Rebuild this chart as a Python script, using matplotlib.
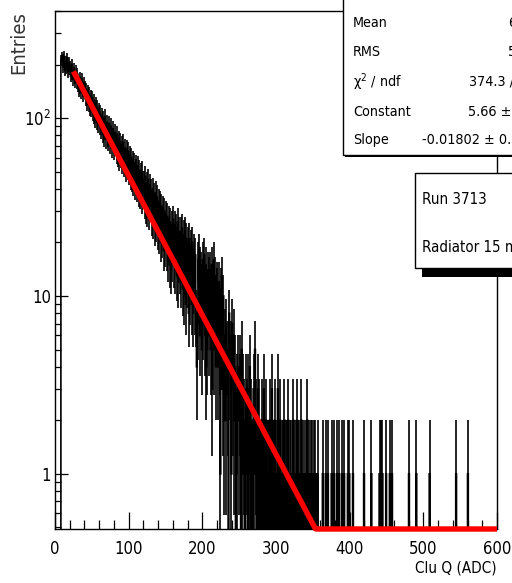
import numpy as np
import matplotlib
matplotlib.use("Agg")
import matplotlib.pyplot as plt
import matplotlib.font_manager as fm
from matplotlib.patches import Rectangle
from matplotlib.ticker import FixedLocator, FixedFormatter, LogLocator, NullFormatter, MultipleLocator

# ---- histogram: cluster charge, 1 ADC bins from 0 to 600 ----
bin_edges = np.arange(0, 601)

# bins 0..359
dense_counts = [
    0, 0, 0, 0, 0, 0, 0, 0, 212, 221,
    214, 193, 222, 185, 208, 190, 218, 181, 205, 188,
    196, 172, 201, 176, 165, 191, 168, 160, 184, 158,
    177, 152, 144, 169, 149, 140, 166, 143, 135, 158,
    150, 128, 145, 121, 141, 119, 137, 114, 133, 112,
    130, 107, 103, 125, 98, 120, 95, 115, 92, 111,
    108, 90, 86, 104, 81, 99, 78, 102, 84, 76,
    95, 78, 74, 93, 71, 90, 76, 68, 87, 72,
    66, 83, 70, 63, 81, 61, 76, 58, 74, 60,
    71, 56, 73, 54, 68, 55, 51, 67, 52, 65,
    49, 62, 46, 60, 45, 58, 43, 56, 41, 55,
    52, 40, 54, 38, 51, 37, 49, 35, 50, 39,
    44, 33, 47, 31, 43, 30, 45, 29, 42, 32,
    39, 27, 40, 26, 37, 24, 38, 25, 36, 23,
    34, 22, 33, 20, 32, 21, 31, 18, 30, 19,
    29, 18, 28, 16, 27, 15, 26, 14, 25, 16,
    27, 15, 25, 14, 24, 13, 26, 12, 23, 14,
    23, 12, 24, 11, 22, 10, 23, 9, 21, 12,
    20, 8, 21, 10, 19, 9, 20, 8, 18, 9,
    17, 8, 4, 7, 16, 18, 6, 15, 14, 5,
    16, 7, 17, 6, 15, 4, 5, 14, 13, 6,
    14, 5, 15, 3, 12, 16, 5, 13, 4, 12,
    11, 4, 12, 5, 1, 11, 13, 3, 10, 2,
    6, 2, 7, 5, 3, 0, 8, 4, 5, 1,
    7, 3, 6, 2, 4, 0, 1, 3, 4, 2,
    3, 4, 0, 5, 1, 3, 2, 0, 1, 3,
    2, 0, 3, 1, 4, 0, 2, 1, 0, 3,
    1, 5, 2, 0, 1, 3, 0, 2, 1, 0,
    2, 1, 0, 3, 0, 1, 2, 0, 1, 1,
    0, 2, 1, 0, 3, 1, 0, 1, 2, 0,
    1, 0, 3, 1, 0, 2, 0, 1, 0, 1,
    0, 2, 0, 1, 1, 0, 2, 0, 1, 0,
    1, 0, 1, 2, 0, 1, 0, 0, 2, 1,
    0, 1, 0, 0, 2, 1, 0, 1, 0, 0,
    1, 0, 2, 0, 1, 0, 0, 1, 0, 1,
    0, 1, 0, 1, 0, 0, 1, 0, 0, 0,
]

# bins above 360 holding a single entry
single_hits = [363, 367, 370, 375, 378, 382, 385, 389, 392, 397, 399, 404,
               419, 429, 440, 442, 444, 449, 454, 457, 480, 490, 508, 544, 560]

# exponential fit  f(x) = exp(Constant + Slope * x)
fit_constant = 5.66
fit_slope = -0.01802
fit_range = (25, 600)

# stats box rows
stat_names = ['Entries', 'Mean', 'RMS', r'χ$\mathregular{^2}$ / ndf', 'Constant', 'Slope']
stat_values = ['13462', '67.35', '56.41', '374.3 / 323', '5.66 ± 0.02', '-0.01802 ± 0.00027']

run_label = 'Run 3713'
radiator_label = 'Radiator 15 mm'

XMIN, XMAX = 0, 600
YMIN, YMAX = 0.49, 400

# pick a narrow sans face if one is installed
narrow_family, narrow_stretch = None, 'normal'
for f in fm.fontManager.ttflist:
    if f.name in ('Liberation Sans Narrow', 'Arial Narrow'):
        narrow_family, narrow_stretch = f.name, 'normal'
        break
if narrow_family is None:
    for f in fm.fontManager.ttflist:
        st = str(f.stretch)
        if ('Condensed' in f.name or st in ('condensed', 'semi-condensed', 'extra-condensed')) \
                and f.style == 'normal' and f.weight in (400, 'normal', 'regular'):
            narrow_family, narrow_stretch = f.name, st if st != 'normal' else 'normal'
            break

if narrow_family is not None:
    plt.rcParams['font.family'] = [narrow_family, 'Liberation Sans', 'DejaVu Sans']
    plt.rcParams['font.stretch'] = narrow_stretch
    TICK_FS, XLAB_FS, STAT_FS, BOX_FS = 12, 11, 10.3, 10.8
else:
    plt.rcParams['font.family'] = ['Liberation Sans', 'DejaVu Sans']
    TICK_FS, XLAB_FS, STAT_FS, BOX_FS = 10.5, 10, 9.4, 10

counts = np.zeros(len(bin_edges) - 1)
counts[:len(dense_counts)] = dense_counts
counts[single_hits] = 1

W, H = 512, 583
fig = plt.figure(figsize=(W / 100, H / 100), dpi=100)


def px_rect(l, t, r, b):
    return [l / W, 1 - b / H, (r - l) / W, (b - t) / H]


ax = fig.add_axes(px_rect(55, 11, 497, 529))
ax.set_yscale('log')
ax.set_xlim(XMIN, XMAX)
ax.set_ylim(YMIN, YMAX)

# histogram outline plus statistical error bars
ax.stairs(counts, bin_edges, color='black', lw=1.2, baseline=None)
centers = 0.5 * (bin_edges[:-1] + bin_edges[1:])
filled = counts > 0
err = np.sqrt(counts)
ax.vlines(centers[filled], (counts - err)[filled], (counts + err)[filled],
          color='black', lw=1.2)

# fitted exponential, held at the lower edge of the frame like ROOT does
xf = np.linspace(fit_range[0], fit_range[1], 500)
yf = np.exp(fit_constant + fit_slope * xf)
ax.plot(xf, np.maximum(yf, YMIN), color='red', lw=3.9, clip_on=False,
        solid_capstyle='butt', solid_joinstyle='miter', zorder=5)

# axes styling
for s in ax.spines.values():
    s.set_linewidth(1.0)
ax.xaxis.set_major_locator(MultipleLocator(100))
ax.xaxis.set_minor_locator(MultipleLocator(20))
ax.yaxis.set_major_locator(FixedLocator([1, 10, 100]))
ax.yaxis.set_major_formatter(FixedFormatter(['1', '10', r'$\mathregular{10^{2}}$']))
ax.yaxis.set_minor_locator(LogLocator(base=10, subs=np.arange(2, 10)))
ax.yaxis.set_minor_formatter(NullFormatter())
ax.tick_params(which='both', direction='in', top=False, right=False, width=0.9)
ax.tick_params(axis='x', which='major', length=12, pad=8, labelsize=TICK_FS)
ax.tick_params(axis='x', which='minor', length=6.5)
ax.tick_params(axis='y', which='major', length=9.4, pad=3, labelsize=TICK_FS)
ax.tick_params(axis='y', which='minor', length=4.3)

ax.set_xlabel('Clu Q (ADC)', fontsize=XLAB_FS)
ax.xaxis.set_label_coords(1.0, -0.06)
ax.xaxis.label.set_horizontalalignment('right')
ax.set_ylabel('Entries', fontsize=14.5, family=['DejaVu Sans'], color='#333333')
ax.yaxis.set_label_coords(-0.081, 1.0)
ax.yaxis.label.set_verticalalignment('center')
ax.yaxis.label.set_horizontalalignment('right')

# overlay in pixel coordinates for the text boxes
ov = fig.add_axes([0, 0, 1, 1], zorder=10)
ov.set_xlim(0, W)
ov.set_ylim(H, 0)
ov.axis('off')
ov.patch.set_alpha(0)

# stats box
ov.add_patch(Rectangle((345, -40), 220, 197, fc='black', ec='none'))
ov.add_patch(Rectangle((343, -40), 220, 195, fc='white', ec='black', lw=1.0))
row_y = [-4, 23.3, 52.5, 81.8, 112, 140]
val_x = [503, 508, 508, 469, 468, 422]
for name, val, y, vx in zip(stat_names, stat_values, row_y, val_x):
    ov.text(353, y, name, fontsize=STAT_FS, va='center', ha='left')
    ov.text(vx, y, val, fontsize=STAT_FS, va='center', ha='left')

# run info box
ov.add_patch(Rectangle((422, 180), 200, 97, fc='black', ec='none'))
ov.add_patch(Rectangle((415, 173), 200, 95, fc='white', ec='black', lw=1.0))
ov.text(422, 200, run_label, fontsize=BOX_FS, va='center', ha='left')
ov.text(422, 247, radiator_label, fontsize=BOX_FS, va='center', ha='left')

fig.savefig('out.png', dpi=100)
